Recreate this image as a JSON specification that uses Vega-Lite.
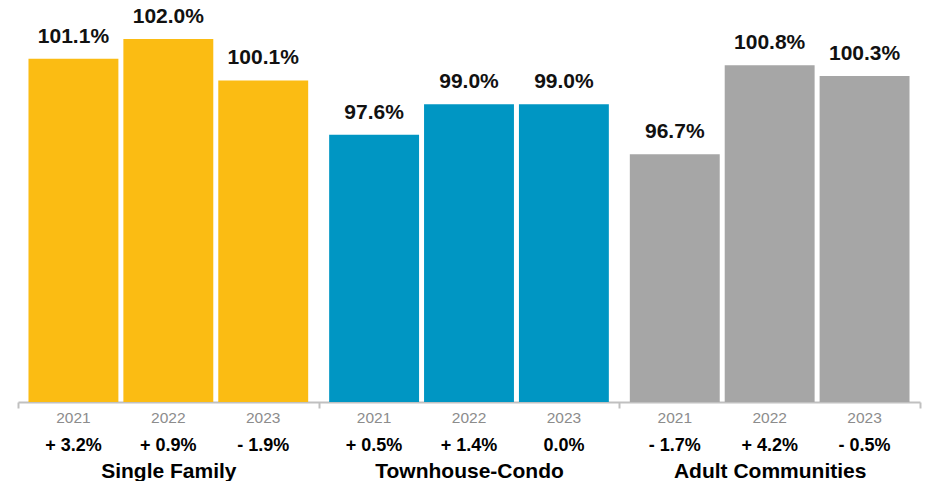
{
  "$schema": "https://vega.github.io/schema/vega-lite/v6.json",
  "width": 902,
  "height": 402,
  "padding": {"left": 17, "top": 0, "right": 9, "bottom": 0},
  "config": {"view": {"stroke": null}, "font": "Liberation Sans"},
  "data": {
    "values": [
      {"group": "Single Family", "year": "2021", "value": 101.1, "label": "101.1%", "change": "+ 3.2%"},
      {"group": "Single Family", "year": "2022", "value": 102.0, "label": "102.0%", "change": "+ 0.9%"},
      {"group": "Single Family", "year": "2023", "value": 100.1, "label": "100.1%", "change": "- 1.9%"},
      {"group": "Townhouse-Condo", "year": "2021", "value": 97.6, "label": "97.6%", "change": "+ 0.5%"},
      {"group": "Townhouse-Condo", "year": "2022", "value": 99.0, "label": "99.0%", "change": "+ 1.4%"},
      {"group": "Townhouse-Condo", "year": "2023", "value": 99.0, "label": "99.0%", "change": "0.0%"},
      {"group": "Adult Communities", "year": "2021", "value": 96.7, "label": "96.7%", "change": "- 1.7%"},
      {"group": "Adult Communities", "year": "2022", "value": 100.8, "label": "100.8%", "change": "+ 4.2%"},
      {"group": "Adult Communities", "year": "2023", "value": 100.3, "label": "100.3%", "change": "- 0.5%"}
    ]
  },
  "encoding": {
    "x": {
      "field": "group",
      "type": "nominal",
      "sort": null,
      "scale": {"paddingInner": 0, "paddingOuter": 0},
      "axis": {
        "title": null,
        "labelAngle": 0,
        "labelLimit": 0,
        "labelFontSize": 21,
        "labelFontWeight": "bold",
        "labelColor": "#000000",
        "labelPadding": 63,
        "labelBaseline": "middle",
        "domainColor": "#c0c0c0",
        "domainWidth": 2,
        "tickColor": "#c0c0c0",
        "tickWidth": 2,
        "tickSize": 6,
        "tickBand": "extent",
        "grid": false
      }
    },
    "xOffset": {
      "field": "year",
      "type": "nominal",
      "sort": null,
      "scale": {"paddingInner": 0.0526, "paddingOuter": 0.1105}
    }
  },
  "layer": [
    {
      "mark": {"type": "bar"},
      "encoding": {
        "y": {
          "field": "value",
          "type": "quantitative",
          "scale": {"domain": [85.3, 103.8], "nice": false, "zero": false},
          "axis": null
        },
        "y2": {"datum": 85.3},
        "color": {
          "field": "group",
          "type": "nominal",
          "scale": {
            "domain": ["Single Family", "Townhouse-Condo", "Adult Communities"],
            "range": ["#FBBC13", "#0096C3", "#A6A6A6"]
          },
          "legend": null
        }
      }
    },
    {
      "mark": {"type": "text", "dy": -16, "baseline": "alphabetic", "fontSize": 21, "fontWeight": "bold", "color": "#111111"},
      "encoding": {
        "y": {"field": "value", "type": "quantitative"},
        "text": {"field": "label"}
      }
    },
    {
      "mark": {"type": "text", "dy": 16, "baseline": "middle", "fontSize": 15.5, "color": "#8c8c8c"},
      "encoding": {
        "y": {"datum": 85.3},
        "text": {"field": "year"}
      }
    },
    {
      "mark": {"type": "text", "dy": 44, "baseline": "middle", "fontSize": 18, "fontWeight": "bold", "color": "#000000"},
      "encoding": {
        "y": {"datum": 85.3},
        "text": {"field": "change"}
      }
    }
  ]
}
